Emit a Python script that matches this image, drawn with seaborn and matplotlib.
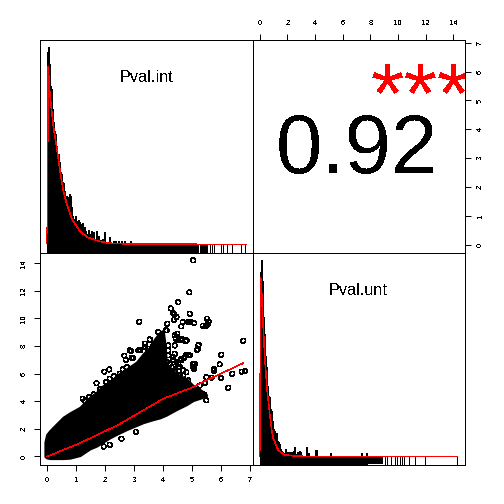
import numpy as np
import matplotlib
matplotlib.use('Agg')
import matplotlib.pyplot as plt
import seaborn as sns

# histogram of Pval.int (one bin per 1/29 unit, heights in arbitrary count units)
int_bin_width = 1 / 29
int_counts = [201, 206, 189, 167, 164, 144, 131, 122, 119, 107, 97, 99, 91, 81, 79, 71, 70, 62, 56, 57,
              56, 54, 59, 57, 46, 37, 34, 32, 37, 32, 31, 33, 31, 26, 29, 30, 21, 26, 22, 19,
              14, 23, 16, 19, 22, 16, 21, 14, 12, 22, 12, 17, 12, 13, 12, 14, 11, 21, 11, 10,
              9, 9, 16, 9, 9, 9, 12, 9, 12, 9, 9, 12, 9, 9, 12, 9, 9, 12, 9, 9,
              9, 9, 9, 12, 9, 9, 9, 9, 9, 10, 9, 9, 9, 9, 10, 8, 8, 8, 9, 8]
int_density_x = [-0.03, -0.03, 0.0, 0.03, 0.09, 0.15, 0.21, 0.32, 0.44, 0.55, 0.67, 0.84, 1.13, 1.41, 1.70, 1.99, 2.28, 2.97, 6.87]
int_density_y = [9, 19, 19, 186, 159, 142, 126, 106, 82, 62, 49, 34, 21, 15, 12, 10, 9, 8.5, 8]
int_rug_dense = [(0.0, 5.23), (5.27, 5.55)]
int_rug = [5.62, 5.70, 5.74, 5.98, 6.06, 6.21, 6.38, 6.70, 6.82]

# histogram of Pval.unt
unt_bin_width = 3 / 41.4
unt_counts = [193, 205, 184, 148, 131, 109, 98, 79, 69, 68, 56, 54, 44, 36, 34, 28, 32, 24, 23, 21,
              16, 14, 13, 12, 11, 16, 11, 13, 13, 13, 13, 13, 9, 14, 18, 11, 9, 13, 9, 14,
              13, 8, 8, 8, 8, 8, 18, 12, 12, 8, 8, 8, 8, 8, 8, 15, 15, 8, 8, 8,
              8, 8, 8, 8, 8, 8, 8, 8, 8, 8, 12, 8, 8, 8, 8, 8, 8, 8, 8, 8,
              8, 8, 8, 8, 8, 8, 8, 8, 8, 8, 8, 8, 8, 8, 8, 8, 8, 8, 8, 8,
              8, 12, 8, 8, 8, 8, 12]
unt_density_x = [-0.02, -0.02, 0.02, 0.07, 0.14, 0.22, 0.29, 0.36, 0.43, 0.51, 0.58, 0.65, 0.72, 0.80, 0.87, 0.99, 1.11, 1.23, 1.35, 1.47, 1.71, 2.20, 2.92, 4.13, 14.28]
unt_density_y = [8, 14, 14, 188, 174, 148, 129, 109, 96, 79, 68, 61, 51, 43, 34, 26, 22, 18, 14, 13, 10, 9, 8.3, 8, 8]
unt_rug_dense = [(0.0, 8.9)]
unt_rug = [9.03, 9.23, 9.52, 9.78, 9.95, 10.14, 10.26, 10.44, 10.77, 11.21, 11.96, 14.29]

cloud_x = [-0.08, -0.02, 0.09, 0.32, 0.55, 0.78, 1.13, 1.47, 1.70, 1.93, 2.16, 2.39, 2.74, 3.08, 3.31, 3.54, 3.71, 3.89, 4.00, 4.06, 4.11, 4.46, 4.80, 5.03, 5.32, 5.49]
cloud_hi = [1.04, 1.59, 1.88, 2.37, 2.85, 3.16, 3.57, 4.30, 4.66, 5.14, 5.39, 5.87, 6.35, 6.84, 7.44, 7.92, 8.53, 9.01, 9.13, 8.16, 6.71, 5.99, 5.63, 5.14, 4.78, 4.49]
cloud_lo = [0.0, -0.10, -0.15, -0.15, -0.15, -0.12, 0.07, 0.55, 0.75, 1.05, 1.35, 1.60, 1.95, 2.25, 2.45, 2.60, 2.70, 2.80, 2.90, 2.95, 3.00, 3.40, 3.75, 4.05, 4.25, 4.40]

# points standing clear of the cloud
out_x = [5.03, 4.90, 4.52, 4.26, 4.34, 4.38, 4.46, 4.37, 3.17, 4.92, 4.94, 5.07, 4.67, 4.62, 4.14, 5.51, 5.57, 5.53, 5.37, 5.46,
         6.76, 4.09, 4.48, 4.43, 4.64, 4.77, 5.22, 5.17, 6.00, 5.95, 5.76, 5.75, 6.38, 6.71, 6.82, 6.00, 6.24, 5.67, 5.49, 5.44,
         5.26, 5.49, 5.41, 4.92, 4.80, 4.63, 5.03, 5.07, 4.80, 2.66, 2.71, 2.89, 2.97, 3.14, 3.37, 3.54, 2.14, 1.97, 2.16, 2.02,
         1.70, 1.82, 1.22, 1.45, 2.74, 3.83, 4.00, 4.17, 4.34, 4.23, 4.46, 4.06, 4.40, 4.14, 4.57, 4.69, 3.06, 2.56, 2.16, 1.95,
         3.20, 2.85, 2.91, 3.37, 3.54, 3.83, 4.12, 4.40, 4.52, 4.00, 4.17, 4.40, 3.94, 4.17, 4.40, 4.35, 4.12, 4.63, 4.52, 4.29,
         3.83, 3.48, 3.66, 4.86, 5.21, 5.19, 4.81, 4.63, 4.86, 4.72, 5.09, 5.03, 4.69, 4.52, 4.86, 4.69, 4.57,
         1.30, 1.60, 2.30, 2.50, 2.60]
out_y = [14.20, 11.88, 11.18, 10.72, 10.41, 10.29, 10.10, 9.90, 9.76, 10.34, 9.76, 9.66, 9.73, 9.42, 9.61, 9.98, 9.76, 9.57, 9.47, 9.42,
         8.38, 9.13, 8.89, 8.53, 8.53, 8.36, 8.09, 7.71, 7.37, 6.67, 6.33, 6.21, 5.99, 6.14, 6.18, 5.68, 4.98, 5.70, 5.75, 5.31,
         5.14, 4.06, 4.49, 7.32, 7.37, 7.08, 6.71, 6.35, 6.11, 7.29, 7.00, 7.63, 7.13, 7.68, 7.92, 8.45, 6.30, 6.14, 5.63, 5.39,
         5.31, 4.90, 4.18, 4.30, 6.47, 7.92, 7.44, 7.68, 7.20, 6.71, 6.84, 6.35, 6.11, 5.99, 6.47, 5.87, 1.79, 1.28, 0.85, 0.72,
         7.68, 7.68, 7.15, 8.17, 8.48, 9.01, 9.13, 8.77, 8.41, 8.28, 8.04, 8.04, 7.56, 7.32, 7.44, 6.96, 6.83, 6.96, 6.47, 6.47,
         7.08, 7.80, 8.04, 9.73, 8.04, 7.73, 8.41, 8.41, 7.32, 7.15, 6.72, 6.47, 6.23, 6.72, 5.51, 5.38, 5.87,
         4.00, 4.50, 5.80, 6.00, 6.30]

# smoother through the scatter
fit_x = [0.0, 1.13, 2.45, 4.00, 5.03, 5.49, 6.76]
fit_y = [0.0, 0.97, 2.29, 4.18, 5.02, 5.51, 6.76]

corr_text = '0.92'
stars_text = '***'
int_xticks = [0, 1, 2, 3, 4, 5, 6, 7]
unt_xticks = [0, 2, 4, 6, 8, 10, 12, 14]

sns.set_style('white')
plt.rcParams['font.family'] = ['Liberation Sans', 'DejaVu Sans']
plt.rcParams['text.antialiased'] = False
plt.rcParams['lines.antialiased'] = False
plt.rcParams['patch.antialiased'] = False
plt.rcParams['axes.linewidth'] = 0.72
plt.rcParams['axes.edgecolor'] = 'black'
plt.rcParams['text.color'] = 'black'
plt.rcParams['xtick.color'] = 'black'
plt.rcParams['ytick.color'] = 'black'

fig = plt.figure(figsize=(5.04, 5.04), dpi=100)


def panel(left, top, right, bottom):
    return fig.add_axes([left / 504, 1 - bottom / 504, (right - left) / 504, (bottom - top) / 504])


ax_int = panel(40, 39.5, 252.5, 252.5)
ax_cor = panel(252.5, 39.5, 464.5, 252.5)
ax_sca = panel(40, 252.5, 252.5, 464.5)
ax_unt = panel(252.5, 252.5, 464.5, 464.5)


def draw_hist(ax, counts, width, dens_x, dens_y, dense, sparse, label, label_x):
    centers = (np.arange(len(counts)) + 0.5) * width
    sns.histplot(x=centers, weights=counts, binwidth=width, binrange=(0, len(counts) * width),
                 color='black', edgecolor='black', linewidth=0.4, alpha=1, ax=ax)
    for start, end in dense:
        ax.fill_between([start, end], 0, 8, color='black', linewidth=0)
    sns.rugplot(x=sparse, height=8 / 213, color='black', linewidth=0.6, ax=ax)
    sns.lineplot(x=dens_x, y=dens_y, sort=False, estimator=None, color='red', linewidth=0.4, ax=ax)
    ax.text(label_x, 0.82, label, transform=ax.transAxes, ha='center', va='center', fontsize=11.7)
    ax.set_ylim(0, 213)
    ax.set_xticks([])
    ax.set_yticks([])
    ax.set_xlabel('')
    ax.set_ylabel('')


draw_hist(ax_int, int_counts, int_bin_width, int_density_x, int_density_y, int_rug_dense, int_rug, 'Pval.int', 0.5)
ax_int.set_xlim(-0.25, 7.08)

draw_hist(ax_unt, unt_counts, unt_bin_width, unt_density_x, unt_density_y, unt_rug_dense, unt_rug, 'Pval.unt', 0.5)
ax_unt.set_xlim(-0.52, 14.81)

# scatter panel
ax_sca.fill_between(cloud_x, cloud_lo, cloud_hi, color='black', linewidth=1.5)
sns.scatterplot(x=out_x, y=out_y, marker='o', s=11, facecolor='none', edgecolor='black', linewidth=0.4, ax=ax_sca)
sns.lineplot(x=fit_x, y=fit_y, color='red', linewidth=0.4, ax=ax_sca)
ax_sca.set_xlim(-0.25, 7.08)
ax_sca.set_ylim(-0.58, 14.77)
ax_sca.set_xticks(int_xticks)
ax_sca.set_yticks(unt_xticks)
ax_sca.tick_params(axis='both', length=4, width=0.72, labelsize=5.6, pad=5, left=True, bottom=True)
for t in ax_sca.get_yticklabels():
    t.set_rotation(90)
    t.set_va('center')

# correlation panel
ax_cor.set_xlim(-0.52, 14.81)
ax_cor.set_ylim(-0.27, 7.11)
ax_cor.set_xticks(unt_xticks)
ax_cor.set_yticks(int_xticks)
ax_cor.xaxis.tick_top()
ax_cor.yaxis.tick_right()
ax_cor.tick_params(axis='both', length=4, width=0.72, labelsize=5.6, pad=5, top=True, right=True)
for t in ax_cor.get_yticklabels():
    t.set_rotation(90)
    t.set_va('center')
ax_cor.text(0.495, 0.475, corr_text, transform=ax_cor.transAxes, ha='center', va='center', fontsize=60)
ax_cor.text(0.795, 0.71, stars_text, transform=ax_cor.transAxes, ha='center', va='center', fontsize=62,
            color='red', clip_on=True)

for ax in [ax_int, ax_cor, ax_sca, ax_unt]:
    for side in ax.spines.values():
        side.set_visible(True)

fig.savefig('out.png', dpi=100, facecolor='white')
plt.close(fig)
